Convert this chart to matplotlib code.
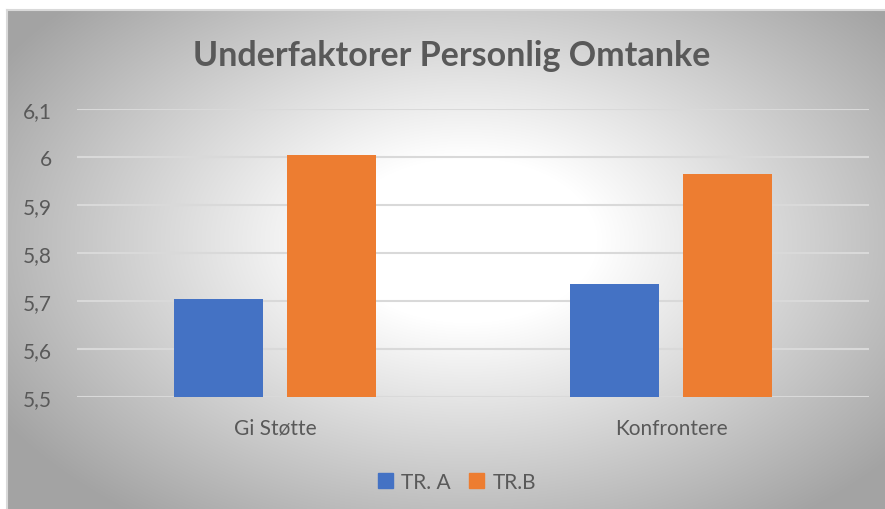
import numpy as np
import matplotlib
matplotlib.use("Agg")
import matplotlib.pyplot as plt
from matplotlib.patches import Patch

categories = ["Gi Støtte", "Konfrontere"]
series_names = ["TR. A", "TR.B"]
tr_a = [5.705, 5.735]
tr_b = [6.005, 5.965]
y_ticks = [5.5, 5.6, 5.7, 5.8, 5.9, 6.0, 6.1]
y_tick_labels = ["5,5", "5,6", "5,7", "5,8", "5,9", "6", "6,1"]

BLUE = "#4472C4"
ORANGE = "#ED7D31"
TEXT = "#595959"

plt.rcParams["font.family"] = ["Lato", "DejaVu Sans"]

W, H = 885, 510
fig = plt.figure(figsize=(W / 100, H / 100), dpi=100)
fig.patch.set_facecolor("white")

# bakgrunn: radial gradient, hvit i midten og grå mot kantene
bg_left, bg_top = 7, 11
bg = fig.add_axes([bg_left / W, 0, (W - bg_left) / W, (H - bg_top) / H])
bw, bh = W - bg_left, H - bg_top
xx, yy = np.meshgrid(np.arange(bw), np.arange(bh))
cx, cy = 460, 230
d = np.sqrt(((xx - cx) / 520) ** 2 + ((yy - cy) / 330) ** 2)
t = np.clip((d - 0.25) / 0.8, 0, 1)
edge = np.array([0.64, 0.64, 0.64])
img = 1 - t[..., None] * (1 - edge)
bg.imshow(img, aspect="auto", extent=[0, bw, bh, 0])
bg.set_xlim(0, bw)
bg.set_ylim(bh, 0)
bg.axis("off")
fig.add_artist(plt.Line2D([bg_left / W, bg_left / W], [0, (H - bg_top) / H],
                          color="#d9d9d9", lw=1.5, transform=fig.transFigure))
fig.add_artist(plt.Line2D([bg_left / W, 1], [(H - bg_top) / H, (H - bg_top) / H],
                          color="#d9d9d9", lw=1.5, transform=fig.transFigure))

ax = fig.add_axes([77 / W, 112 / H, 792 / W, 288 / H])
ax.set_facecolor("none")

x = np.arange(len(categories))
width = 0.225
offset = width / 2 + 0.03
ax.bar(x - offset, tr_a, width, color=BLUE, label=series_names[0], zorder=3)
ax.bar(x + offset, tr_b, width, color=ORANGE, label=series_names[1], zorder=3)

ax.set_ylim(5.5, 6.1)
ax.set_xlim(-0.5, 1.5)
ax.set_yticks(y_ticks)
ax.set_yticklabels(y_tick_labels)
ax.set_xticks(x)
ax.set_xticklabels(categories)
ax.tick_params(axis="both", length=0, labelsize=15, colors=TEXT)
ax.tick_params(axis="y", pad=18)
ax.tick_params(axis="x", pad=15)
ax.grid(axis="y", color="#d9d9d9", lw=1.5, zorder=0)
for s in ax.spines.values():
    s.set_visible(False)

fig.text(452 / W, 1 - 56 / H, "Underfaktorer Personlig Omtanke", ha="center", va="center",
         fontsize=24.5, fontweight="bold", color=TEXT)

handles = [Patch(color=BLUE, label=series_names[0]), Patch(color=ORANGE, label=series_names[1])]
fig.legend(handles=handles, loc="center", bbox_to_anchor=(457 / W, 1 - 483 / H), ncol=2,
           frameon=False, fontsize=15, labelcolor=TEXT, handlelength=0.7, handleheight=0.7,
           handletextpad=0.4, columnspacing=0.9)

fig.savefig("out.png", dpi=100)
